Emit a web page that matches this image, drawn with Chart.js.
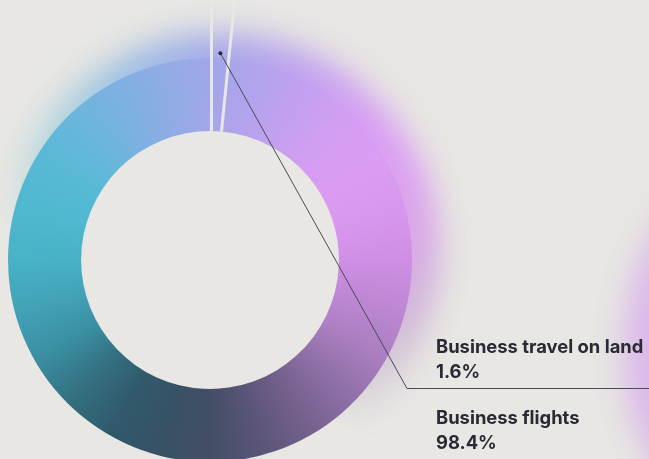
<!DOCTYPE html>
<html>
<head>
<meta charset="utf-8">
<script src="https://cdn.jsdelivr.net/npm/chart.js@4/dist/chart.umd.min.js"></script>
<style>
  html, body { margin: 0; padding: 0; }
  body {
    width: 649px; height: 459px; overflow: hidden; position: relative;
    background: #e8e7e3; font-family: Inter, "Noto Sans", sans-serif;
  }
  #blob {
    position: absolute; left: 624px; top: 170px; width: 260px; height: 360px;
    border-radius: 50%; background: rgba(214, 165, 236, 0.75); filter: blur(16px);
  }
  #chart { position: absolute; left: 0; top: 0; }
  .lbl {
    position: absolute; left: 436px; color: #2a2a35;
    font-size: 18.4px; font-weight: 700; line-height: 25px; white-space: nowrap;
  }
</style>
</head>
<body>
<div id="blob"></div>
<canvas id="chart" width="649" height="459"></canvas>
<div class="lbl" id="lbl0" style="top:334px"></div>
<div class="lbl" id="lbl1" style="top:405px"></div>
<script>
// data
const categories = ['Business travel on land', 'Business flights'];
const shares = [1.6, 98.4];

const BG = '#e8e7e3';

// colour ring around the doughnut, every 15 degrees clockwise from 12 o'clock
const ringStops = ['#a6a6ea', '#b6a3ee', '#c6a0f0', '#d49ef3', '#dc9cf4', '#d898ee',
                   '#d190e6', '#c088d6', '#ac80c2', '#9070a8', '#74608c', '#5a5578',
                   '#434e66', '#375165', '#315a6c', '#337080', '#3a8ea2', '#42a2b6',
                   '#48b2c6', '#50b8d0', '#58bad6', '#6cb6dc', '#80b0e2', '#94abe6', '#a6a6ea'];

function ringFill(context) {
    const chart = context.chart;
    const a = chart.chartArea;
    if (!a) return '#888';
    const cx = (a.left + a.right) / 2, cy = (a.top + a.bottom) / 2;
    const g = chart.ctx.createConicGradient(-Math.PI / 2, cx, cy);
    ringStops.forEach((c, i) => g.addColorStop(i / (ringStops.length - 1), c));
    return g;
}

// soft glow + separators + leader line
const decor = {
    id: 'decor',
    afterDatasetsDraw(chart) {
        const ctx = chart.ctx;
        const w = chart.canvas.width, h = chart.canvas.height;
        const arcs = chart.getDatasetMeta(0).data;
        const p = arcs[0].getProps(['x', 'y', 'startAngle', 'endAngle', 'innerRadius', 'outerRadius'], true);
        const cx = p.x, cy = p.y;

        // blurred copy of the ring, faded towards the bottom
        const off = document.createElement('canvas');
        off.width = w; off.height = h;
        const o = off.getContext('2d');
        o.filter = 'blur(16px)';
        o.translate(cx + 12, cy - 10);
        o.scale(1.07, 1.07);
        o.translate(-cx, -cy);
        o.drawImage(chart.canvas, 0, 0);
        o.setTransform(1, 0, 0, 1, 0, 0);
        o.filter = 'none';
        o.globalCompositeOperation = 'destination-in';
        const ux = 0.5, uy = -0.866;
        const m = o.createLinearGradient(cx - 80 * ux, cy - 80 * uy, cx + 185 * ux, cy + 185 * uy);
        m.addColorStop(0, 'rgba(0,0,0,0)');
        m.addColorStop(1, 'rgba(0,0,0,1)');
        o.fillStyle = m;
        o.fillRect(0, 0, w, h);

        ctx.save();
        ctx.beginPath();
        ctx.rect(0, 0, w, h);
        ctx.arc(cx, cy, p.innerRadius, 0, Math.PI * 2);
        ctx.clip('evenodd');
        ctx.drawImage(off, 0, 0);
        ctx.restore();

        // separators of the small slice, set just inside it
        ctx.save();
        ctx.strokeStyle = BG;
        ctx.lineWidth = 3;
        [[p.startAngle, 1.5], [p.endAngle, -1.5]].forEach(([ang, inset]) => {
            const nx = -Math.sin(ang) * inset, ny = Math.cos(ang) * inset;
            ctx.beginPath();
            ctx.moveTo(cx + nx + p.innerRadius * Math.cos(ang), cy + ny + p.innerRadius * Math.sin(ang));
            ctx.lineTo(cx + nx + 300 * Math.cos(ang), cy + ny + 300 * Math.sin(ang));
            ctx.stroke();
        });

        // leader line to the label
        const mid = (p.startAngle + p.endAngle) / 2;
        const dx = cx + (p.outerRadius + 5) * Math.cos(mid);
        const dy = cy + (p.outerRadius + 5) * Math.sin(mid);
        ctx.strokeStyle = '#4a4a55';
        ctx.lineWidth = 1;
        ctx.beginPath();
        ctx.moveTo(dx, dy);
        ctx.lineTo(407, 388.5);
        ctx.lineTo(w, 388.5);
        ctx.stroke();
        ctx.fillStyle = '#2a2a35';
        ctx.beginPath();
        ctx.arc(dx, dy, 2, 0, Math.PI * 2);
        ctx.fill();
        ctx.restore();
    }
};

new Chart(document.getElementById('chart'), {
    type: 'doughnut',
    data: {
        labels: categories,
        datasets: [{
            data: shares,
            backgroundColor: ringFill,
            borderWidth: 0,
            hoverOffset: 0
        }]
    },
    options: {
        responsive: false,
        animation: false,
        radius: 202,
        cutout: 127,
        layout: { padding: { left: 0, right: 229, top: 61, bottom: 0 } },
        plugins: { legend: { display: false }, tooltip: { enabled: false } }
    },
    plugins: [decor]
});

// labels
[0, 1].forEach(i => {
    document.getElementById('lbl' + i).innerHTML = categories[i] + '<br>' + shares[i].toFixed(1) + '%';
});
</script>
</body>
</html>
